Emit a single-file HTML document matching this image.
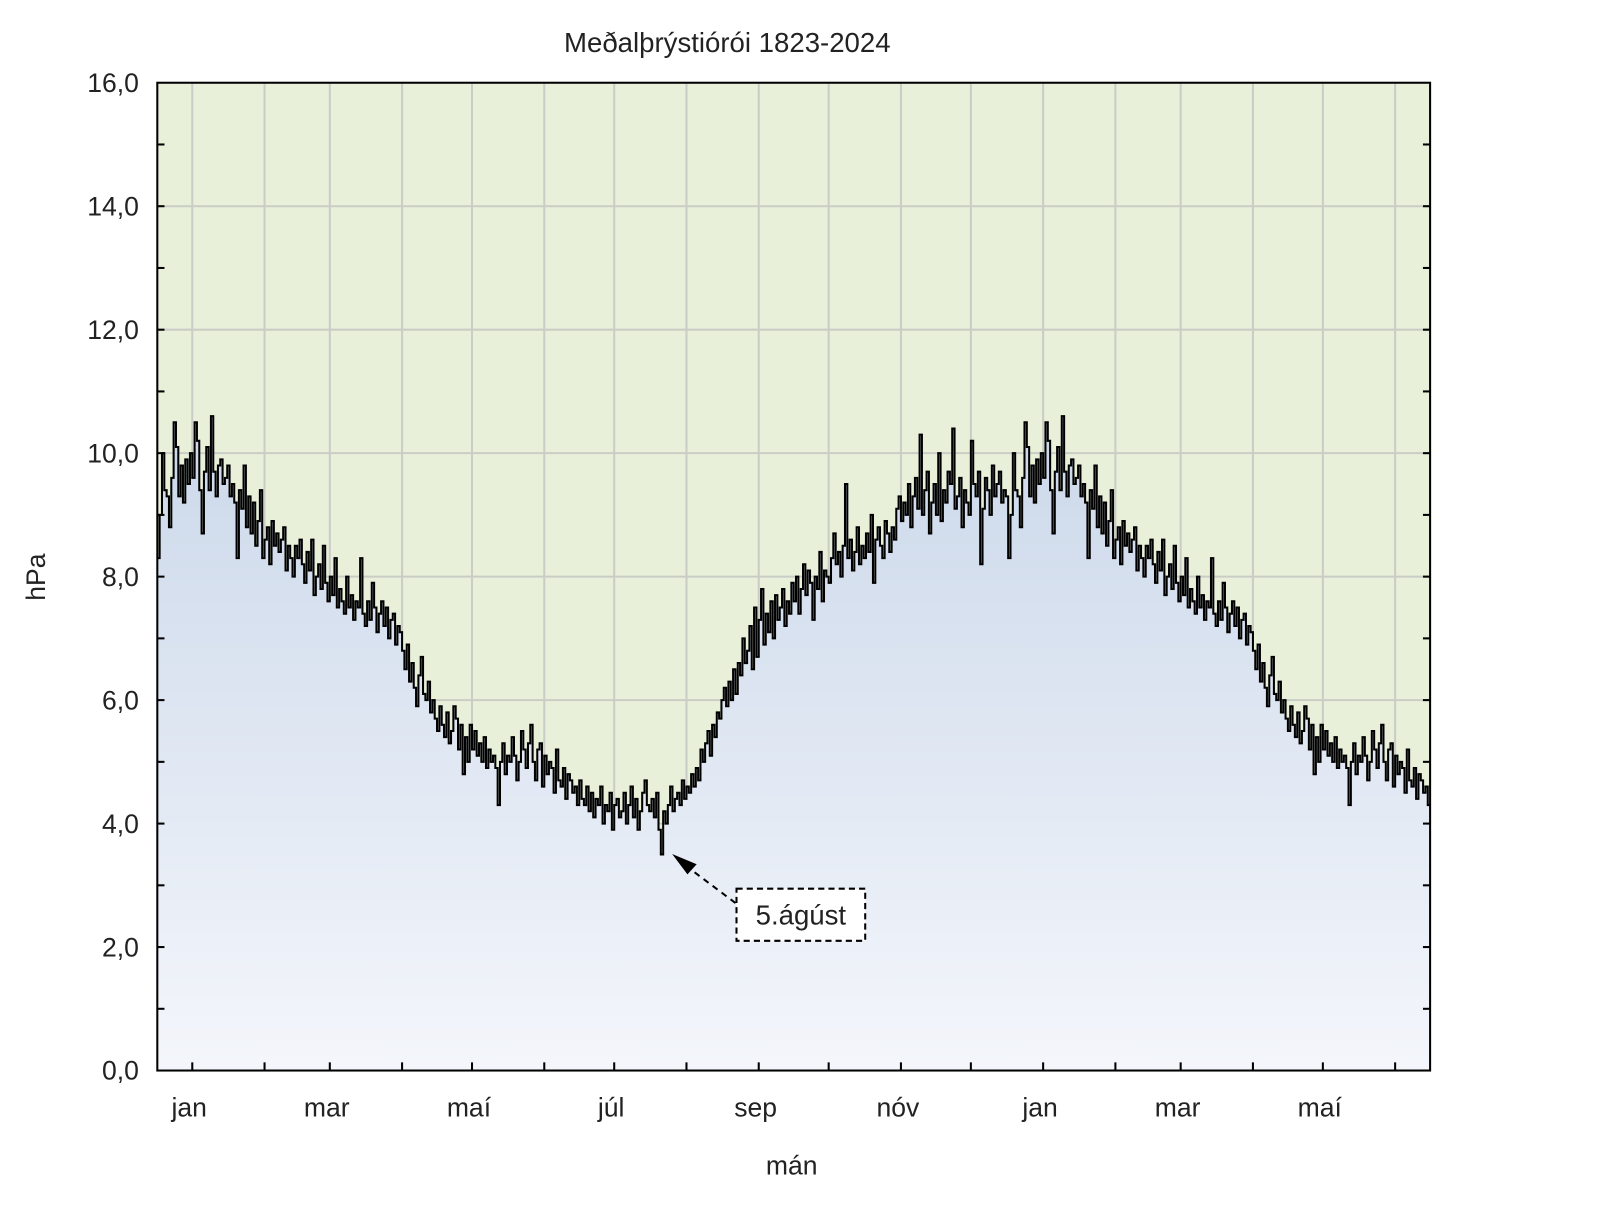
<!DOCTYPE html>
<html><head><meta charset="utf-8"><style>
body{margin:0;background:#fff;}
svg text{font-family:"Liberation Sans",sans-serif;fill:#222;}
</style></head><body>
<svg id="chart" width="1600" height="1200" viewBox="0 0 1600 1200" xmlns="http://www.w3.org/2000/svg">
<defs>
<linearGradient id="fillGrad" x1="0" y1="0" x2="0" y2="1">
<stop offset="0" stop-color="#cbd8ea"/><stop offset="1" stop-color="#f4f6fb"/>
</linearGradient>
</defs>
<g transform="scale(1.0215)">
<text x="712" y="51" font-size="27" text-anchor="middle">Meðalþrýstiórói 1823-2024</text>
<rect x="154" y="81" width="1246" height="967" fill="#e9f0da"/>
<g id="grid"></g>
<path id="area" fill="url(#fillGrad)"/>
<path id="line" fill="none" stroke="#000" stroke-width="2"/>
<rect x="154" y="81" width="1246" height="967" fill="none" stroke="#000" stroke-width="2"/>
<g id="axes"></g>
<text transform="translate(44,565) rotate(-90)" font-size="26" text-anchor="middle">hPa</text>
<text x="775" y="1150" font-size="26" text-anchor="middle">mán</text>
<g>
<line x1="720" y1="884" x2="668" y2="845" stroke="#000" stroke-width="2" stroke-dasharray="6,5"/>
<polygon points="658,836 682,846 673,856" fill="#000"/>
<rect x="721" y="870" width="126" height="51" fill="#fff" stroke="#000" stroke-width="2" stroke-dasharray="6,4"/>
<text x="784" y="905" font-size="27" text-anchor="middle">5.ágúst</text>
</g>
</g>
</svg>
<script>
const jan=[8.3,9.0,10.0,9.4,9.3,8.8,9.6,10.5,10.1,9.3,9.8,9.2,9.9,9.5,10.0,9.6,10.5,10.2,9.4,8.7,9.7,10.1,9.4,10.6,9.7,9.3,9.8,9.9,9.5,9.6,9.8];
const feb=[9.3,9.5,9.2,8.3,9.4,9.1,9.8,8.8,9.3,8.7,9.2,8.5,8.9,9.4,8.3,8.6,8.8,8.2,8.9,8.5,8.7,8.4,8.6,8.8,8.1,8.5,8.3,8.0];
const mar=[8.5,8.3,8.6,8.2,7.9,8.4,8.1,8.6,7.7,8.0,8.2,7.8,8.5,7.9,7.6,8.0,7.7,8.3,7.5,7.8,7.6,7.4,8.0,7.5,7.7,7.3,7.6,7.5,8.3,7.4,7.2];
const apr=[7.6,7.3,7.9,7.5,7.1,7.4,7.6,7.2,7.5,7.0,7.3,7.4,6.9,7.2,7.1,6.8,6.5,6.9,6.3,6.6,6.2,5.9,6.4,6.7,6.1,6.0,6.3,5.8,6.0,5.7];
const may=[5.5,5.9,5.6,5.4,5.8,5.3,5.5,5.9,5.7,5.2,5.6,4.8,5.4,5.0,5.6,5.2,5.5,5.1,5.3,5.0,5.4,4.9,5.2,5.0,5.1,4.9,4.3,5.0,5.3,4.8,5.1];
const jun=[5.0,5.4,5.1,4.7,5.0,5.5,5.2,4.9,5.3,5.6,5.0,4.7,5.2,5.3,4.6,5.1,4.8,5.0,4.9,4.5,5.2,4.7,4.6,4.9,4.4,4.8,4.7,4.5,4.6,4.3];
const jul=[4.7,4.4,4.3,4.6,4.2,4.5,4.1,4.4,4.3,4.6,4.0,4.3,4.2,4.5,3.9,4.3,4.4,4.1,4.2,4.5,4.0,4.3,4.6,4.1,4.4,3.9,4.2,4.5,4.7,4.3,4.2];
const aug=[4.4,4.1,4.5,3.9,3.5,4.2,4.0,4.3,4.6,4.2,4.4,4.5,4.3,4.7,4.4,4.6,4.5,4.8,4.6,4.9,4.7,5.2,5.0,5.3,5.5,5.1,5.6,5.4,5.8,5.7,6.0];
const sep=[6.2,5.9,6.3,6.0,6.5,6.1,6.6,6.4,7.0,6.6,6.8,7.2,6.5,7.5,6.7,7.3,7.8,6.9,7.4,7.1,7.6,7.0,7.7,7.3,7.5,7.8,7.2,7.6,7.4,7.9];
const oct=[7.6,8.0,7.4,7.8,8.2,7.7,8.1,7.9,7.3,8.0,7.8,8.4,7.6,8.1,8.0,7.9,8.3,8.7,8.2,8.4,8.0,8.5,9.5,8.3,8.6,8.1,8.4,8.8,8.2,8.5,8.3];
const nov=[8.7,8.4,9.0,7.9,8.6,8.8,8.5,8.3,8.9,8.7,8.4,8.8,8.6,9.1,9.3,8.9,9.2,9.0,9.5,8.8,9.3,9.6,9.1,10.3,9.0,9.4,9.7,8.7,9.2,9.5];
const dec=[9.0,10.0,8.9,9.4,9.2,9.7,9.5,10.4,9.1,9.3,9.6,8.8,9.4,9.2,9.0,10.2,9.5,9.3,9.7,8.2,9.1,9.6,9.4,9.0,9.8,9.3,9.5,9.7,9.2,9.4,9.3];
const monthLabels=["jan","feb","mar","apr","maí","jún","júl","ágú","sep","okt","nóv","des"];
const yTicks=[0,2,4,6,8,10,12,14,16];
const yLabels=["0,0","2,0","4,0","6,0","8,0","10,0","12,0","14,0","16,0"];

const NS="http://www.w3.org/2000/svg";
const year=[].concat(jan,feb,mar,apr,may,jun,jul,aug,sep,oct,nov,dec);
const series=year.concat(jan,feb,mar,apr,may,jun);
const X0=154,X1=1400,Y0=1048,Y1=81;
const nDays=series.length;
const xs=d=>X0+d*(X1-X0)/nDays;
const ys=v=>Y0-(v-0)*(Y0-Y1)/16;
const grid=document.getElementById('grid'), axes=document.getElementById('axes');
function mk(tag,attrs,parent){const e=document.createElementNS(NS,tag);for(const k in attrs)e.setAttribute(k,attrs[k]);parent.appendChild(e);return e;}
const mlen=[31,28,31,30,31,30,31,31,30,31,30,31];
let starts=[],acc=0;for(let i=0;i<18;i++){starts.push(acc);acc+=mlen[i%12];}
starts.forEach((s,i)=>{
  const d=s+15; if(d>=nDays)return;
  const x=xs(d);
  const g=mk('line',{x1:x,x2:x,y1:Y1,y2:Y0,stroke:'#c9cdc6','stroke-width':2},grid);
  
  
  const t=mk('line',{x1:x,x2:x,y1:Y0,y2:Y0-8,stroke:'#000','stroke-width':2},axes);
  
  
  if(i%2===0){
    const l=mk('text',{x:x-3,y:1093,'font-size':26,'text-anchor':'middle'},axes);
    l.textContent=monthLabels[i%12];
    
    
  }
});
yTicks.forEach((v,i)=>{
  const y=ys(v);
  if(v>0&&v<16){
    const g=mk('line',{x1:X0,x2:X1,y1:y,y2:y,stroke:'#c9cdc6','stroke-width':2},grid);
    
    
  }
  const l=mk('text',{x:136,y:y+9,'font-size':26,'text-anchor':'end'},axes);
  l.textContent=yLabels[i];
  
  
});
for(let v=1;v<16;v++){
  const y=ys(v);
  const t=mk('line',{x1:X0,x2:X0+7,y1:y,y2:y,stroke:'#000','stroke-width':2},axes);
  
  
  const t2=mk('line',{x1:X1-7,x2:X1,y1:y,y2:y,stroke:'#000','stroke-width':2},axes);
  
  
}
let p='';
series.forEach((v,i)=>{const x0=xs(i),x1=xs(i+1),y=ys(v);p+=(i===0?'M':'L')+x0.toFixed(2)+','+y.toFixed(2)+'L'+x1.toFixed(2)+','+y.toFixed(2);});
document.getElementById('line').setAttribute('d',p);
document.getElementById('area').setAttribute('d',p+'L'+X1+','+Y0+'L'+X0+','+Y0+'Z');
</script>
</body></html>
